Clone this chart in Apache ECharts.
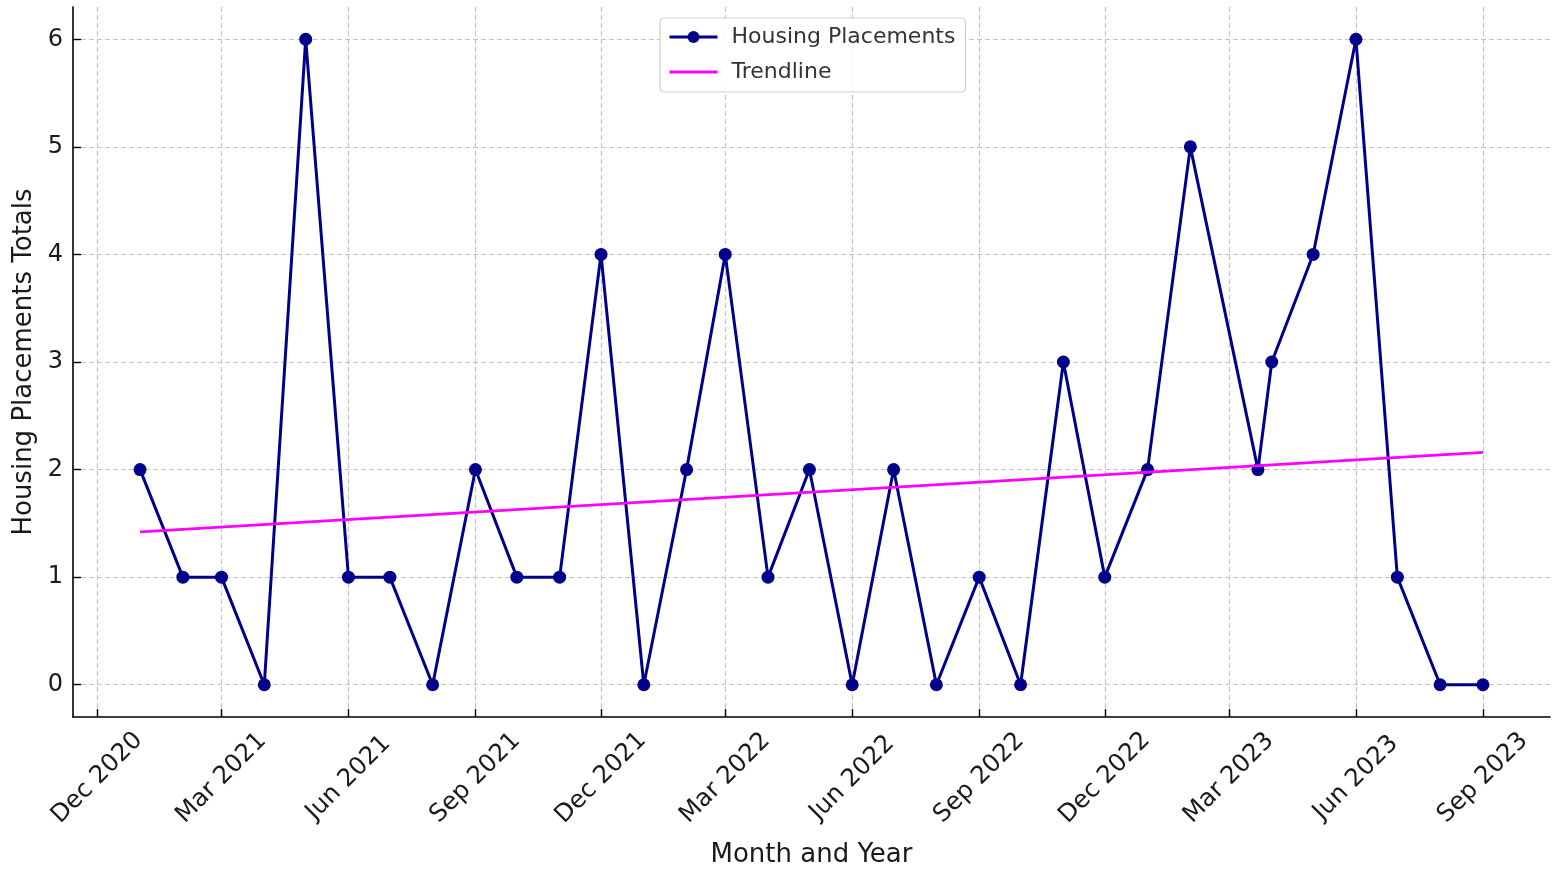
<!DOCTYPE html>
<html>
<head>
<meta charset="utf-8">
<script src="https://cdn.jsdelivr.net/npm/echarts@6/dist/echarts.min.js"></script>
<style>
  html, body { margin: 0; padding: 0; background: #fff; }
  #chart { width: 1553px; height: 875px; }
</style>
</head>
<body>
<div id="chart"></div>
<script>
// monthly placements, one point moved to late March 2023
const dates = [
  '2021-01-01', '2021-02-01', '2021-03-01', '2021-04-01', '2021-05-01', '2021-06-01',
  '2021-07-01', '2021-08-01', '2021-09-01', '2021-10-01', '2021-11-01', '2021-12-01',
  '2022-01-01', '2022-02-01', '2022-03-01', '2022-04-01', '2022-05-01', '2022-06-01',
  '2022-07-01', '2022-08-01', '2022-09-01', '2022-10-01', '2022-11-01', '2022-12-01',
  '2023-01-01', '2023-02-01', '2023-03-22', '2023-04-01', '2023-05-01', '2023-06-01',
  '2023-07-01', '2023-08-01', '2023-09-01'
];
const placements = [
  2, 1, 1, 0, 6, 1, 1, 0, 2, 1, 1, 4,
  0, 2, 4, 1, 2, 0, 2, 0, 1, 0, 3, 1,
  2, 5, 2, 3, 4, 6, 1, 0, 0
];
// trendline end points
const trendDates = ['2021-01-01', '2023-09-01'];
const trendValues = [1.42, 2.16];

const tickDates = [
  '2020-12-01', '2021-03-01', '2021-06-01', '2021-09-01', '2021-12-01', '2022-03-01',
  '2022-06-01', '2022-09-01', '2022-12-01', '2023-03-01', '2023-06-01', '2023-09-01'
];
const tickLabels = [
  'Dec 2020', 'Mar 2021', 'Jun 2021', 'Sep 2021', 'Dec 2021', 'Mar 2022',
  'Jun 2022', 'Sep 2022', 'Dec 2022', 'Mar 2023', 'Jun 2023', 'Sep 2023'
];
const yTicks = [0, 1, 2, 3, 4, 5, 6];

function toTime(s) {
  const p = s.split('-');
  return Date.UTC(+p[0], +p[1] - 1, +p[2]);
}

const FONT = 'DejaVu Sans';
const TXT = '#1a1a1a';
const NAVY = '#00008b';
const DAY = 86400000;
const xMin = toTime(dates[0]) - 48.6 * DAY;
const xMax = toTime(dates[dates.length - 1]) + 48.6 * DAY;
const tickTimes = tickDates.map(toTime);

const chart = echarts.init(document.getElementById('chart'));
chart.setOption({
  animation: false,
  backgroundColor: '#fff',
  textStyle: { fontFamily: FONT },
  grid: { left: 73, right: 3, top: 7, bottom: 158 },
  legend: {
    orient: 'vertical',
    left: 660,
    top: 18,
    padding: [8, 10, 9, 8],
    itemGap: 13,
    itemWidth: 48,
    itemHeight: 15,
    backgroundColor: 'rgba(255,255,255,0.85)',
    borderColor: '#d0d0d0',
    borderWidth: 1.2,
    borderRadius: 4,
    textStyle: { fontFamily: FONT, fontSize: 22, color: '#333', padding: [0, 0, 0, 9] },
    data: [
      { name: 'Housing Placements', lineStyle: { width: 3 } },
      { name: 'Trendline', lineStyle: { width: 3 }, itemStyle: { opacity: 0 } }
    ]
  },
  xAxis: {
    type: 'value',
    min: xMin,
    max: xMax,
    name: 'Month and Year',
    nameLocation: 'middle',
    nameGap: 125,
    nameTextStyle: { fontFamily: FONT, fontSize: 26, color: TXT },
    axisLine: { show: true, onZero: false, lineStyle: { color: '#000', width: 1.6 } },
    axisTick: {
      show: true, inside: true, length: 8,
      lineStyle: { color: '#000', width: 1.4 },
      customValues: tickTimes
    },
    axisLabel: {
      rotate: 45,
      align: 'center',
      verticalAlign: 'middle',
      margin: 61,
      fontFamily: FONT,
      fontSize: 24.5,
      color: TXT,
      customValues: tickTimes,
      formatter: function (v) {
        const i = tickTimes.indexOf(v);
        return i >= 0 ? tickLabels[i] : '';
      }
    },
    splitLine: { show: true, lineStyle: { color: '#c4c4c4', width: 1.2, type: [5, 3] } }
  },
  yAxis: {
    type: 'value',
    min: -0.3,
    max: 6.3,
    name: 'Housing Placements Totals',
    nameLocation: 'middle',
    nameGap: 33,
    nameTextStyle: { fontFamily: FONT, fontSize: 26, color: TXT },
    axisLine: { show: true, onZero: false, lineStyle: { color: '#000', width: 1.6 } },
    axisTick: {
      show: true, inside: true, length: 8,
      lineStyle: { color: '#000', width: 1.4 },
      customValues: yTicks
    },
    axisLabel: {
      margin: 10,
      fontFamily: FONT,
      fontSize: 24,
      color: TXT,
      customValues: yTicks
    },
    splitLine: { show: true, lineStyle: { color: '#c4c4c4', width: 1.2, type: [5, 3] } }
  },
  series: [
    {
      name: 'Housing Placements',
      type: 'line',
      data: dates.map((d, i) => [toTime(d), placements[i]]),
      symbol: 'circle',
      symbolSize: 13,
      color: NAVY,
      lineStyle: { color: NAVY, width: 3 },
      itemStyle: { color: NAVY },
      z: 3
    },
    {
      name: 'Trendline',
      type: 'line',
      data: trendDates.map((d, i) => [toTime(d), trendValues[i]]),
      symbol: 'none',
      color: '#ff00ff',
      lineStyle: { color: '#ff00ff', width: 2.8 },
      z: 4
    }
  ]
});
</script>
</body>
</html>
